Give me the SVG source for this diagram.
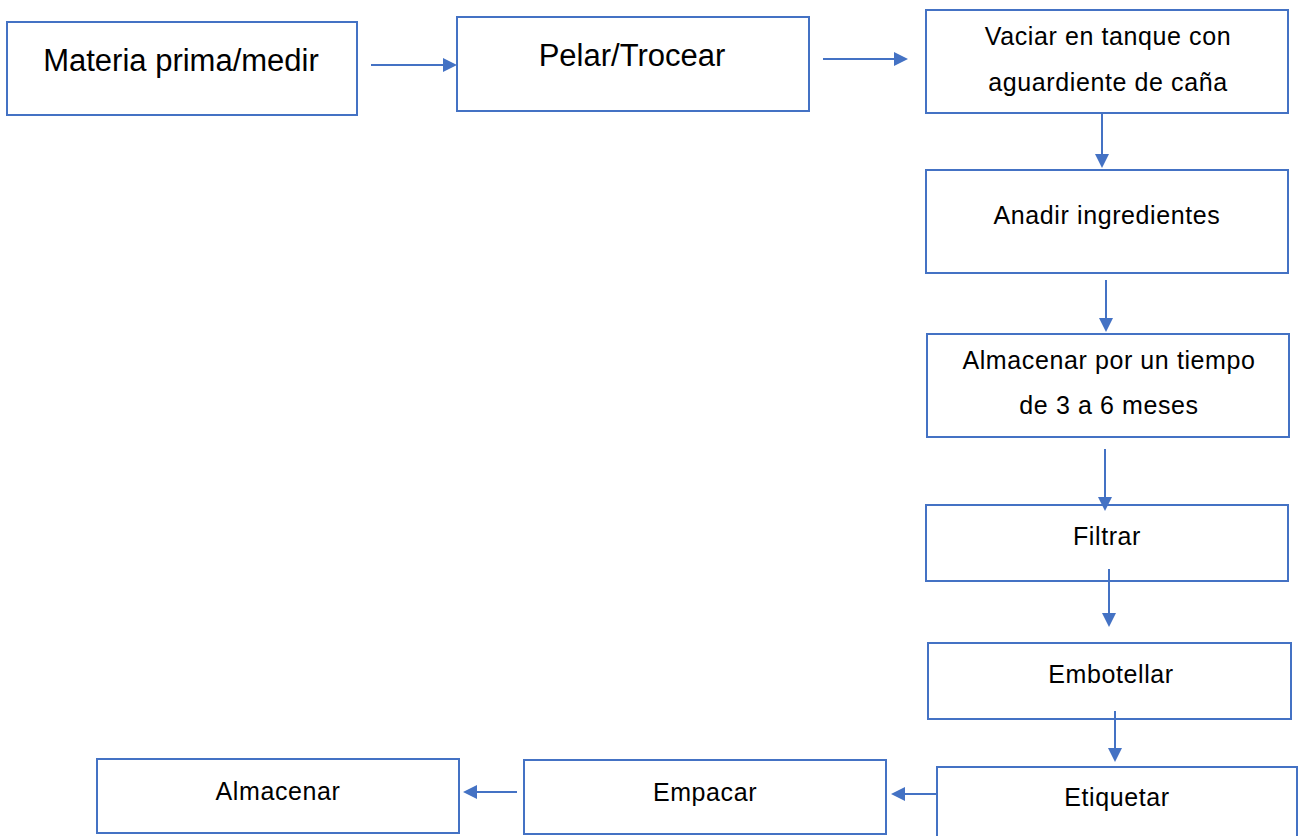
<svg xmlns="http://www.w3.org/2000/svg" width="1300" height="836" viewBox="0 0 1300 836">
  <style>
    .box { fill: #ffffff; stroke: #4472C4; stroke-width: 2; }
    .conn { fill: none; stroke: #4472C4; stroke-width: 2; marker-end: url(#arrow); }
    .lbl { font-family: "Liberation Sans", Arial, sans-serif; fill: #000000; text-anchor: middle; }
    .big { font-size: 31px; }
    .sm { font-size: 25px; letter-spacing: 0.6px; }
  </style>
  <defs>
    <marker id="arrow" markerUnits="userSpaceOnUse" markerWidth="14" markerHeight="14" refX="1" refY="7" orient="auto">
      <path d="M0,0 L14,7 L0,14 z" fill="#4472C4"/>
    </marker>
  </defs>
  <rect width="1300" height="836" fill="#ffffff"/>

  <g id="n1">
    <rect class="box" x="7" y="22" width="350" height="93"/>
    <text class="lbl big" x="181" y="71">Materia prima/medir</text>
  </g>
  <g id="n2">
    <rect class="box" x="457" y="17" width="352" height="94"/>
    <text class="lbl big" x="632" y="66">Pelar/Trocear</text>
  </g>
  <g id="n3">
    <rect class="box" x="926" y="10" width="362" height="103"/>
    <text class="lbl sm" x="1108" y="45">Vaciar en tanque con</text>
    <text class="lbl sm" x="1108" y="91">aguardiente de caña</text>
  </g>
  <g id="n4">
    <rect class="box" x="926" y="170" width="362" height="103"/>
    <text class="lbl sm" x="1107" y="224">Anadir ingredientes</text>
  </g>
  <g id="n5">
    <rect class="box" x="927" y="334" width="362" height="103"/>
    <text class="lbl sm" x="1109" y="369">Almacenar por un tiempo</text>
    <text class="lbl sm" x="1109" y="414">de 3 a 6 meses</text>
  </g>
  <g id="n6">
    <rect class="box" x="926" y="505" width="362" height="76"/>
    <text class="lbl sm" x="1107" y="545">Filtrar</text>
  </g>
  <g id="n7">
    <rect class="box" x="928" y="643" width="363" height="76"/>
    <text class="lbl sm" x="1111" y="683">Embotellar</text>
  </g>
  <g id="n8">
    <rect class="box" x="937" y="767" width="360" height="90"/>
    <text class="lbl sm" x="1117" y="806">Etiquetar</text>
  </g>
  <g id="n9">
    <rect class="box" x="524" y="760" width="362" height="74"/>
    <text class="lbl sm" x="705" y="801">Empacar</text>
  </g>
  <g id="n10">
    <rect class="box" x="97" y="759" width="362" height="74"/>
    <text class="lbl sm" x="278" y="800">Almacenar</text>
  </g>

  <g id="connectors">
    <line class="conn" x1="371" y1="65" x2="444" y2="65"/>
    <line class="conn" x1="823" y1="59" x2="895" y2="59"/>
    <line class="conn" x1="1102" y1="113" x2="1102" y2="155"/>
    <line class="conn" x1="1106" y1="280" x2="1106" y2="319"/>
    <line class="conn" x1="1105" y1="449" x2="1105" y2="498"/>
    <line class="conn" x1="1109" y1="569" x2="1109" y2="614"/>
    <line class="conn" x1="1115" y1="711" x2="1115" y2="749"/>
    <line class="conn" x1="937" y1="794" x2="904" y2="794"/>
    <line class="conn" x1="517" y1="792" x2="476" y2="792"/>
  </g>
</svg>
